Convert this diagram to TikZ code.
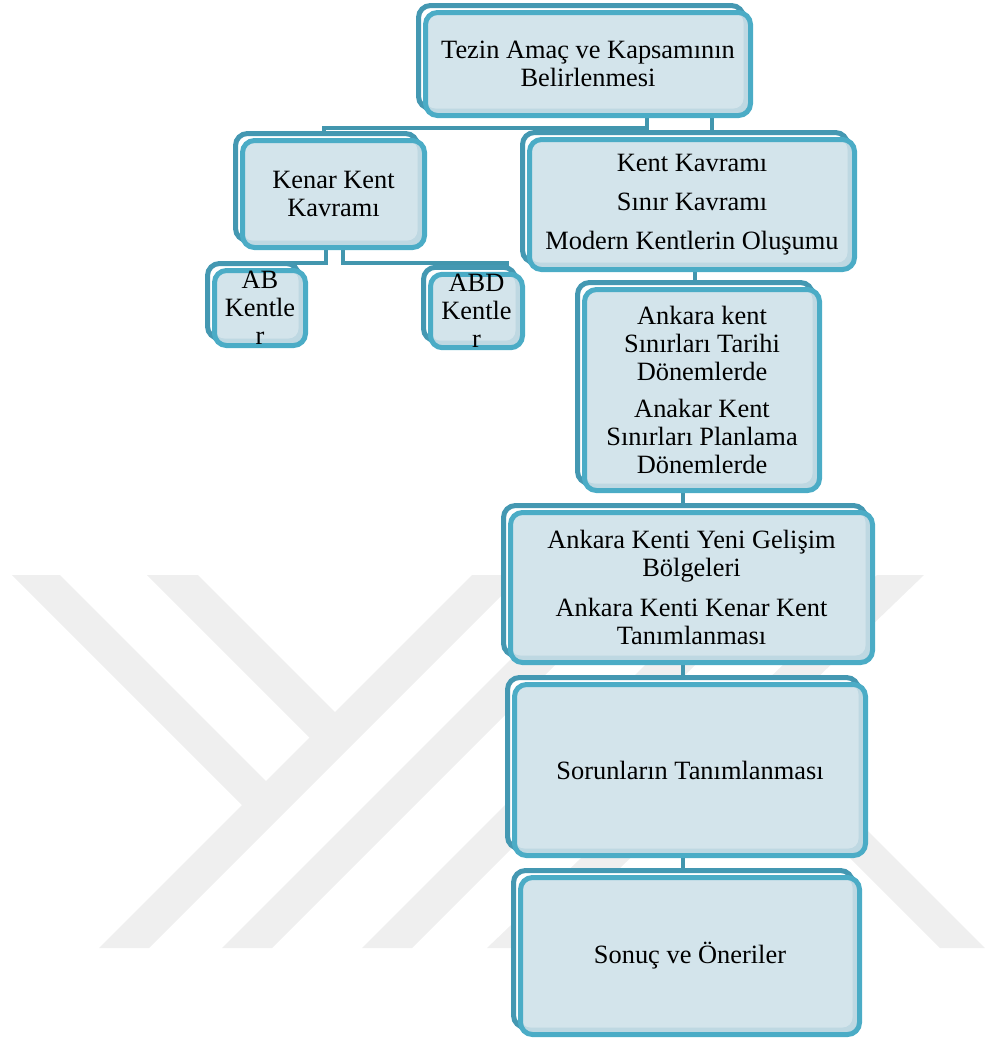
\documentclass[tikz,border=0pt]{standalone}
\usepackage{fontspec}
\newfontfamily\cardfont{Liberation Serif}
\usetikzlibrary{shadows}

\definecolor{cardedge}{RGB}{75,172,198}
\definecolor{cardback}{RGB}{68,152,178}
\definecolor{cardfill}{RGB}{211,228,235}
\definecolor{cardshade}{RGB}{190,216,226}
\definecolor{linkteal}{RGB}{66,150,174}
\definecolor{wmgray}{RGB}{239,239,239}

\pgfdeclarelayer{marks}
\pgfdeclarelayer{links}
\pgfsetlayers{marks,links,main}

\tikzset{
  cardbox/.style={draw=cardedge, fill=cardshade, line width=5pt,
    rounded corners=12pt, align=center, inner sep=0pt,
    font=\cardfont\fontsize{26.4}{28}\selectfont,
    path picture={\fill[cardfill, rounded corners=10pt]
      (path picture bounding box.north west) rectangle
      ([shift={(-7pt,7pt)}]path picture bounding box.south east);},
    copy shadow={shadow xshift=-7pt, shadow yshift=7pt, draw=cardback, fill=white}},
  link/.style={draw=linkteal, line width=4pt},
  watermark/.style={fill=wmgray}
}

\begin{document}
\begin{tikzpicture}[x=1pt,y=-1pt]
	\useasboundingbox (0,0) rectangle (985,1045);

	% draw the boxes
	\node[cardbox, minimum width=325pt, minimum height=103pt] (tz) at (588,64) {Tezin Amaç ve Kapsamının\\Belirlenmesi};
	\node[cardbox, minimum width=182pt, minimum height=107pt] (kk) at (333.5,194) {Kenar Kent\\Kavramı};
	\node[cardbox, minimum width=91pt, minimum height=75pt] (ab) at (260,308) {AB\\Kentle\\r};
	\node[cardbox, minimum width=92pt, minimum height=73pt] (abd) at (476.5,311) {ABD\\Kentle\\r};
	\node[cardbox, minimum width=325pt, minimum height=130pt] (kv) at (692,204.5) {Kent Kavramı\\[11pt]Sınır Kavramı\\[11pt]Modern Kentlerin Oluşumu};
	\node[cardbox, minimum width=235pt, minimum height=201pt] (ank) at (702,390) {Ankara kent\\Sınırları Tarihi\\Dönemlerde\\[9pt]Anakar Kent\\Sınırları Planlama\\Dönemlerde};
	\node[cardbox, minimum width=362pt, minimum height=150pt] (yeni) at (691.5,587.5) {Ankara Kenti Yeni Gelişim\\Bölgeleri\\[12pt]Ankara Kenti Kenar Kent\\Tanımlanması};
	\node[cardbox, minimum width=351pt, minimum height=171pt] (sor) at (690,770) {Sorunların Tanımlanması};
	\node[cardbox, minimum width=339pt, minimum height=157pt] (son) at (690,956) {Sonuç ve Öneriler};

	% draw the connectors behind the boxes
	\begin{pgfonlayer}{links}
		\coordinate (hub) at (647,128);
		\draw[link] ([xshift=59pt]tz.south) -- (hub) -| ([xshift=-10pt]kk.north);
		\draw[link] ([xshift=20pt]kv.north) -- (tz.south -| 712,0);
		\draw[link] ([xshift=-8pt]kk.south) -- ++(0,13) -| ([xshift=-8pt]ab.north);
		\draw[link] ([xshift=9pt]kk.south) -- ++(0,13) -| ([xshift=30pt]abd.north);
		\draw[link] (kv.south -| 695,0) -- (ank.north -| 695,0);
		\foreach \a/\b in {ank/yeni,yeni/sor,sor/son} {
		  % straight line down to the next box
		  \draw[link] (\a.south -| 683,0) -- (\b.north -| 683,0);
		}
	\end{pgfonlayer}

	% draw the watermark
	\begin{pgfonlayer}{marks}
		\fill[watermark] (12,575) -- (60,575) -- (277.5,792.5) -- (253.5,816.5) -- cycle;
		\fill[watermark] (147,575) -- (198,575) -- (346.5,723.5) -- (321,749) -- cycle;
		\fill[watermark] (472,575) -- (522,575) -- (149,948) -- (99,948) -- cycle;
		\fill[watermark] (595,575) -- (645,575) -- (272,948) -- (222,948) -- cycle;
		\fill[watermark] (735,575) -- (785,575) -- (412,948) -- (362,948) -- cycle;
		\fill[watermark] (877,575) -- (924,575) -- (537,948) -- (487,948) -- cycle;
		\fill[watermark] (762,770) -- (807,770) -- (985,948) -- (940,948) -- cycle;
	\end{pgfonlayer}
\end{tikzpicture}
\end{document}
